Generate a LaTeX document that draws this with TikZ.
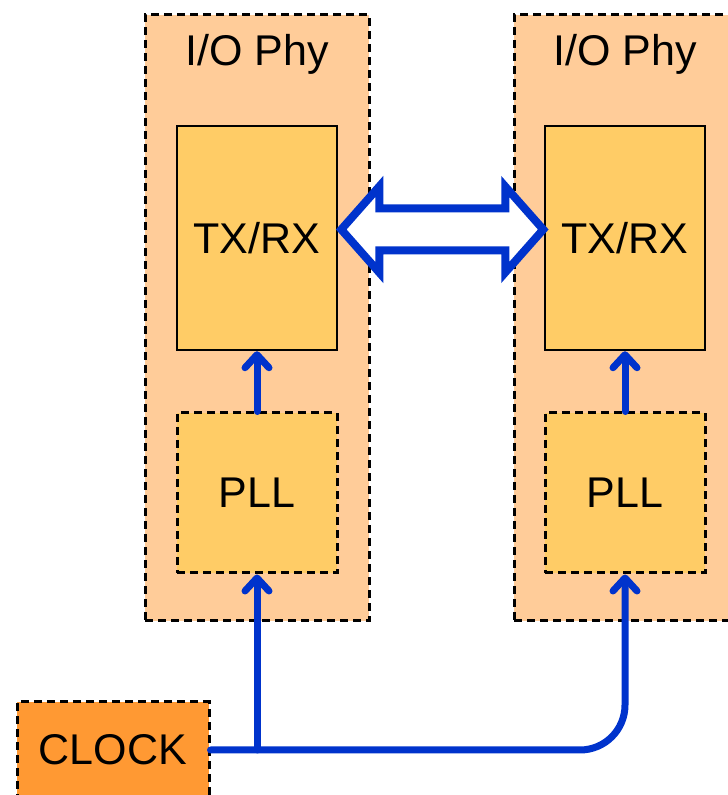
\documentclass[tikz,border=0pt]{standalone}
\usepackage{fontspec}
\setmainfont{Liberation Sans}
\usetikzlibrary{arrows.meta,calc}
\definecolor{phy}{RGB}{255,204,153}
\definecolor{blk}{RGB}{255,204,102}
\definecolor{clk}{RGB}{255,153,51}
\definecolor{wire}{RGB}{0,51,204}
\tikzset{
  bigtext/.style={font=\fontsize{43}{50}\selectfont},
  phybox/.style={draw=black, fill=phy, line width=3pt, dash pattern=on 8pt off 5pt, minimum width=224pt, minimum height=606pt, inner sep=0pt},
  txbox/.style={draw=black, fill=blk, line width=2.5pt, minimum width=160pt, minimum height=224pt, inner sep=0pt, bigtext},
  pllbox/.style={draw=black, fill=blk, line width=3pt, dash pattern=on 8pt off 5pt, minimum width=160pt, minimum height=160pt, inner sep=0pt, bigtext},
  clkbox/.style={draw=black, fill=clk, line width=3pt, dash pattern=on 8pt off 5pt, minimum width=192pt, minimum height=96pt, inner sep=0pt, bigtext},
  lbl/.style={bigtext, anchor=base, inner sep=0pt},
  wireline/.style={draw=wire, line width=7pt, line cap=round, line join=round},
  wirearrow/.style={wireline, -{Straight Barb[length=13pt, width=24pt, round]}},
  dbl/.style={draw=wire, fill=white, line width=8pt, line join=miter}
}
\begin{document}
\begin{tikzpicture}[x=1pt,y=1pt]
\useasboundingbox (0,0) rectangle (728,795);
\clip (0,0) rectangle (728,795);
% outer I/O Phy boxes
\node[phybox] (phyL) at (257,477) {};
\node[phybox] (phyR) at (626,477) {};
\node[lbl] (lblL) at (257,729) {I/O Phy};
\node[lbl] (lblR) at (625,729) {I/O Phy};
% TX/RX
\node[txbox] (txL) at (257,557) {TX/RX};
\node[txbox] (txR) at (625,557) {TX/RX};
% PLL
\node[pllbox] (pllL) at (257,302) {PLL};
\node[pllbox] (pllR) at (625,302) {PLL};
% clock
\node[clkbox] (clock) at (113,45) {CLOCK};
% PLL -> TX/RX
\draw[wirearrow] (pllL.north) -- (txL.south);
\draw[wirearrow] (pllR.north) -- (txR.south);
% clock wires
\coordinate (jL) at (pllL.south |- clock.east);
\draw[wirearrow, rounded corners=45pt] (clock.east) -| (pllR.south);
\draw[wirearrow] (jL) -- (pllL.south);
% double block arrow between TX/RX blocks
\draw[dbl] ($(txL.east)+(3,8.5)$) -- ++(38,43) -- ++(0,-22) -- ++(126,0) -- ++(0,22)
  -- ++(38,-43) -- ++(-38,-43) -- ++(0,22) -- ++(-126,0) -- ++(0,-22) -- cycle;
\end{tikzpicture}
\end{document}
